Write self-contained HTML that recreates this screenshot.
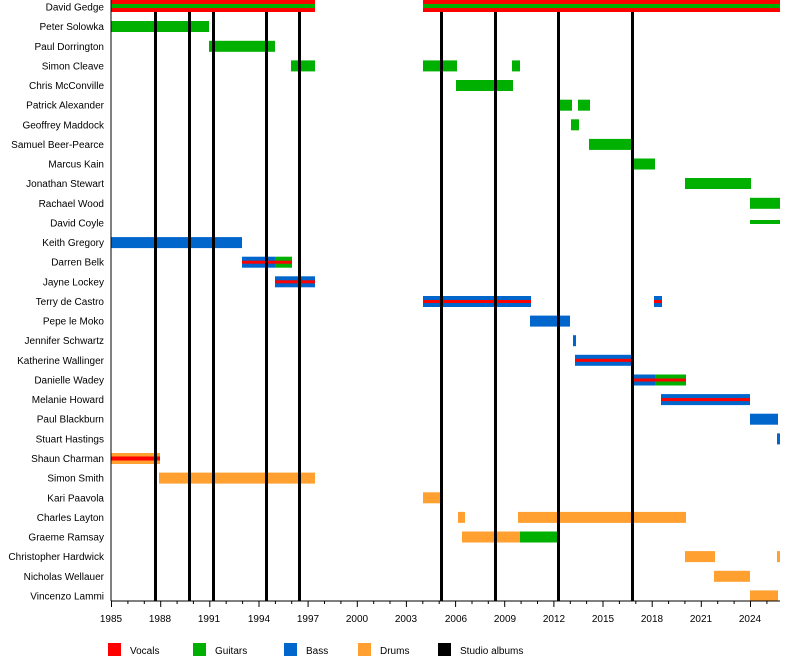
<!DOCTYPE html>
<html><head><meta charset="utf-8"><style>
html,body{margin:0;padding:0;background:#fff}
svg{display:block}
text{font-family:"Liberation Sans",sans-serif;font-size:10px;fill:#000}
</style></head><body>
<svg width="800" height="660" viewBox="0 0 800 660" xmlns="http://www.w3.org/2000/svg">
<g text-anchor="end">
<text x="104" y="10.5">David Gedge</text>
<text x="104" y="30.1">Peter Solowka</text>
<text x="104" y="49.8">Paul Dorrington</text>
<text x="104" y="69.4">Simon Cleave</text>
<text x="104" y="89">Chris McConville</text>
<text x="104" y="108.7">Patrick Alexander</text>
<text x="104" y="128.3">Geoffrey Maddock</text>
<text x="104" y="147.9">Samuel Beer-Pearce</text>
<text x="104" y="167.5">Marcus Kain</text>
<text x="104" y="187.2">Jonathan Stewart</text>
<text x="104" y="206.8">Rachael Wood</text>
<text x="104" y="226.4">David Coyle</text>
<text x="104" y="246.1">Keith Gregory</text>
<text x="104" y="265.7">Darren Belk</text>
<text x="104" y="285.3">Jayne Lockey</text>
<text x="104" y="305">Terry de Castro</text>
<text x="104" y="324.6">Pepe le Moko</text>
<text x="104" y="344.2">Jennifer Schwartz</text>
<text x="104" y="363.8">Katherine Wallinger</text>
<text x="104" y="383.5">Danielle Wadey</text>
<text x="104" y="403.1">Melanie Howard</text>
<text x="104" y="422.7">Paul Blackburn</text>
<text x="104" y="442.4">Stuart Hastings</text>
<text x="104" y="462">Shaun Charman</text>
<text x="104" y="481.6">Simon Smith</text>
<text x="104" y="501.3">Kari Paavola</text>
<text x="104" y="520.9">Charles Layton</text>
<text x="104" y="540.5">Graeme Ramsay</text>
<text x="104" y="560.1">Christopher Hardwick</text>
<text x="104" y="579.8">Nicholas Wellauer</text>
<text x="104" y="599.4">Vincenzo Lammi</text>
</g>
<!-- bars -->
<g>
<rect x="111" y="0" width="204" height="12" fill="#ff0000"/><rect x="111" y="4" width="204" height="4" fill="#00b000"/>
<rect x="423" y="0" width="357" height="12" fill="#ff0000"/><rect x="423" y="4" width="357" height="4" fill="#00b000"/>
<g fill="#00b000">
<rect x="111" y="21" width="98" height="11"/>
<rect x="209" y="40.8" width="66" height="11"/>
<rect x="291" y="60.4" width="24" height="11"/><rect x="423" y="60.4" width="34" height="11"/><rect x="512" y="60.4" width="8" height="11"/>
<rect x="456" y="80" width="57" height="11"/>
<rect x="557" y="99.7" width="15" height="11"/><rect x="578" y="99.7" width="12" height="11"/>
<rect x="571" y="119.3" width="8" height="11"/>
<rect x="589" y="138.9" width="44" height="11"/>
<rect x="632" y="158.5" width="23" height="11"/>
<rect x="685" y="178" width="66" height="11"/>
<rect x="750" y="197.8" width="30" height="11"/>
<rect x="750" y="220" width="30" height="4"/>
<rect x="275" y="256.7" width="17" height="11"/>
<rect x="655" y="374.5" width="31" height="11"/>
<rect x="520" y="531.5" width="38" height="11"/>
</g>
<g fill="#0066cc">
<rect x="111" y="237.1" width="131" height="11"/>
<rect x="242" y="256.7" width="33" height="11"/>
<rect x="275" y="276.3" width="40" height="11"/>
<rect x="423" y="296" width="108" height="11"/><rect x="654" y="296" width="8" height="11"/>
<rect x="530" y="315.6" width="40" height="11"/>
<rect x="573" y="335.2" width="3" height="11"/>
<rect x="575" y="354.8" width="57" height="11"/>
<rect x="632" y="374.5" width="23" height="11"/>
<rect x="661" y="394.1" width="89" height="11"/>
<rect x="750" y="413.7" width="28" height="11"/>
<rect x="777" y="433.4" width="3" height="11"/>
</g>
<g fill="#ffa030">
<rect x="111" y="453" width="49" height="11"/>
<rect x="159" y="472.6" width="156" height="11"/>
<rect x="423" y="492.3" width="20" height="11"/>
<rect x="458" y="511.9" width="7" height="11"/><rect x="518" y="511.9" width="168" height="11"/>
<rect x="462" y="531.5" width="58" height="11"/>
<rect x="685" y="551.1" width="30" height="11"/><rect x="777" y="551.1" width="3" height="11"/>
<rect x="714" y="570.8" width="36" height="11"/>
<rect x="750" y="590.4" width="28" height="11"/>
</g>
<g fill="#ff0000">
<rect x="242" y="260.7" width="50" height="3"/>
<rect x="275" y="280.3" width="40" height="3"/>
<rect x="423" y="300" width="108" height="3"/><rect x="654" y="300" width="8" height="3"/>
<rect x="575" y="358.8" width="57" height="3"/>
<rect x="632" y="378.5" width="54" height="3"/>
<rect x="661" y="398.1" width="89" height="3"/>
<rect x="111" y="456.5" width="49" height="4"/>
</g>
</g>
<!-- album lines -->
<g fill="#000">
<rect x="154" y="12" width="3" height="589"/>
<rect x="188" y="12" width="3" height="589"/>
<rect x="212" y="12" width="3" height="589"/>
<rect x="265" y="12" width="3" height="589"/>
<rect x="298" y="12" width="3" height="589"/>
<rect x="440" y="12" width="3" height="589"/>
<rect x="494" y="12" width="3" height="589"/>
<rect x="557" y="12" width="3" height="589"/>
<rect x="631" y="12" width="3" height="589"/>
</g>
<!-- axes -->
<line x1="111" y1="0" x2="111" y2="601" stroke="#000" stroke-width="1"/>
<line x1="111" y1="601" x2="780" y2="601" stroke="#000" stroke-width="1"/>
<g stroke="#000" stroke-width="1" id="ticks">
<path d="M111.5 601v6M160.7 601v6M209.8 601v6M259 601v6M308.1 601v6M357.3 601v6M406.4 601v6M455.6 601v6M504.7 601v6M553.9 601v6M603 601v6M652.2 601v6M701.3 601v6M750.5 601v6"/>
<path d="M127.9 601v3M144.3 601v3M177.1 601v3M193.4 601v3M226.2 601v3M242.6 601v3M275.4 601v3M291.7 601v3M324.5 601v3M340.9 601v3M373.7 601v3M390 601v3M422.8 601v3M439.2 601v3M472 601v3M488.3 601v3M521.1 601v3M537.5 601v3M570.3 601v3M586.6 601v3M619.4 601v3M635.8 601v3M668.6 601v3M684.9 601v3M717.7 601v3M734.1 601v3M766.9 601v3"/>
</g>
<g text-anchor="middle">
<text x="111" y="622">1985</text><text x="160" y="622">1988</text><text x="209" y="622">1991</text><text x="259" y="622">1994</text><text x="308" y="622">1997</text><text x="357" y="622">2000</text><text x="406" y="622">2003</text><text x="456" y="622">2006</text><text x="505" y="622">2009</text><text x="554" y="622">2012</text><text x="603" y="622">2015</text><text x="652" y="622">2018</text><text x="701" y="622">2021</text><text x="750" y="622">2024</text>
</g>
<!-- legend -->
<rect x="108" y="643" width="13" height="13" fill="#ff0000"/><text x="130" y="654">Vocals</text>
<rect x="193" y="643" width="13" height="13" fill="#00b000"/><text x="215" y="654">Guitars</text>
<rect x="284" y="643" width="13" height="13" fill="#0066cc"/><text x="306" y="654">Bass</text>
<rect x="358" y="643" width="13" height="13" fill="#ffa030"/><text x="380" y="654">Drums</text>
<rect x="438" y="643" width="13" height="13" fill="#000"/><text x="460" y="654">Studio albums</text>
</svg>
</body></html>
